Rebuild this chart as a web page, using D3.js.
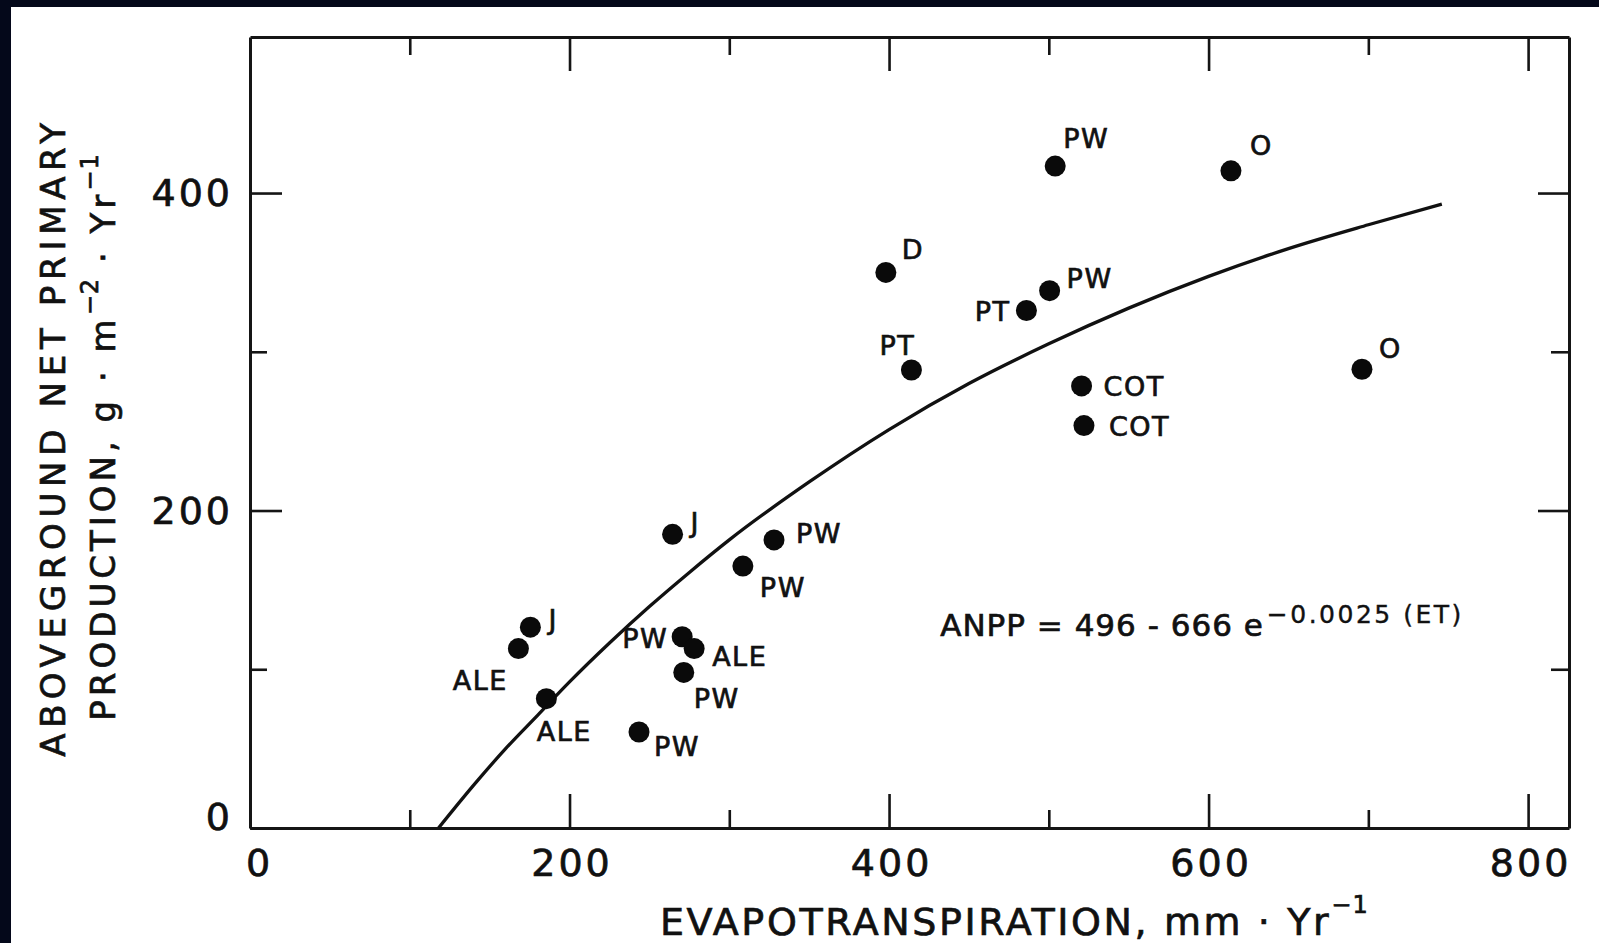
<!DOCTYPE html>
<html>
<head>
<meta charset="utf-8">
<script src="https://cdn.jsdelivr.net/npm/d3@7"></script>
<style>
  html, body { margin: 0; padding: 0; background: #04081a; }
  svg { display: block; }
  text { font-family: "DejaVu Sans", "Liberation Sans", sans-serif; fill: #111; stroke: #111; stroke-width: 0.7px; }
</style>
</head>
<body>
<svg id="chart" width="1599" height="943"></svg>
<script>
// ---------------- data ----------------
const siteLabels = ["PW","O","D","PW","PT","PT","COT","COT","O","J","PW","PW","J","ALE","PW","ALE","PW","ALE","PW"];
const etValues   = [504, 614, 398, 500.5, 486, 414, 520.5, 522, 696, 264.5, 328, 308.5, 175.5, 168, 270.5, 278, 271.5, 185.5, 243.5];
const anppValues = [417, 414, 350, 338.5, 326, 288.5, 278.5, 253.5, 289, 185, 181.5, 165, 126.5, 113, 120.5, 113, 98, 81.5, 60.5];

// fitted curve
const curveET   = [118, 140, 160, 180, 200, 225, 250, 275, 300, 350, 400, 450, 500, 550, 600, 650, 700, 746];
const curveANPP = [0, 27, 50, 71, 92, 116.5, 139.5, 161, 181.5, 218, 251, 280, 305, 327.5, 347.5, 365, 380, 393];

const xTickLabels = ["0", "200", "400", "600", "800"];
const xTickValues = [0, 200, 400, 600, 800];
const xMinorTicks = [100, 300, 500, 700];
const yTickLabels = ["0", "200", "400"];
const yTickValues = [0, 200, 400];
const yMinorTicks = [100, 300];

// label placement (layout only): [dx, dy, anchor]
const labelPlacement = [
  [8, -18, "start"], [19, -16, "start"], [16, -13, "start"], [17, -3, "start"],
  [-16, 10, "end"], [-14, -15, "middle"], [22, 10, "start"], [25, 10, "start"],
  [17, -11, "start"], [18, -2, "start"], [22, 3, "start"], [17, 31, "start"],
  [18, 2, "start"], [-38, 41, "middle"], [-14, 11, "end"], [18, 17, "start"],
  [10, 36, "start"], [18, 42, "middle"], [15, 24, "start"]
];

// ---------------- layout ----------------
const svg = d3.select("#chart");
svg.append("rect").attr("x", 11).attr("y", 7).attr("width", 1599 - 11).attr("height", 943 - 7).attr("fill", "#ffffff");

const x = d3.scaleLinear().domain([0, 825.6]).range([250, 1569]);
const y = d3.scaleLinear().domain([0, 498.3]).range([828, 37]);

const axisColor = "#151515";
function styleAxis(g, hideDomain) {
  g.selectAll("path.domain").attr("stroke", axisColor).attr("stroke-width", 3).attr("display", hideDomain ? "none" : null);
  g.selectAll(".tick line").attr("stroke", axisColor).attr("stroke-width", 2.6);
}

// bottom axis
const gB = svg.append("g").attr("transform", `translate(0,${y(0)})`)
  .call(d3.axisBottom(x).tickValues(xTickValues).tickSizeInner(-34).tickSizeOuter(0).tickPadding(21)
    .tickFormat((d, i) => xTickLabels[i]));
styleAxis(gB, false);
gB.selectAll(".tick text").attr("font-size", 38).attr("letter-spacing", 3)
  .attr("font-family", "DejaVu Sans").attr("fill", "#111").attr("stroke", "#111").attr("stroke-width", 1.2)
  .attr("dx", d => d === 0 ? 9 : 2);
const gBm = svg.append("g").attr("transform", `translate(0,${y(0)})`)
  .call(d3.axisBottom(x).tickValues(xMinorTicks).tickSizeInner(-18).tickSizeOuter(0).tickFormat(""));
styleAxis(gBm, true);

// top axis
const gT = svg.append("g").attr("transform", `translate(0,${y.range()[1]})`)
  .call(d3.axisTop(x).tickValues(xTickValues.slice(1)).tickSizeInner(-34).tickSizeOuter(0).tickFormat(""));
styleAxis(gT, false);
const gTm = svg.append("g").attr("transform", `translate(0,${y.range()[1]})`)
  .call(d3.axisTop(x).tickValues(xMinorTicks).tickSizeInner(-18).tickSizeOuter(0).tickFormat(""));
styleAxis(gTm, true);

// left axis
const gL = svg.append("g").attr("transform", `translate(${x(0)},0)`)
  .call(d3.axisLeft(y).tickValues(yTickValues).tickSizeInner(-32).tickSizeOuter(0).tickPadding(17)
    .tickFormat((d, i) => yTickLabels[i]));
styleAxis(gL, false);
gL.selectAll(".tick text").attr("font-size", 38).attr("letter-spacing", 3)
  .attr("font-family", "DejaVu Sans").attr("fill", "#111").attr("stroke", "#111").attr("stroke-width", 1.2)
  .attr("dy", d => d === 0 ? "0.05em" : "0.34em");
const gLm = svg.append("g").attr("transform", `translate(${x(0)},0)`)
  .call(d3.axisLeft(y).tickValues(yMinorTicks).tickSizeInner(-17).tickSizeOuter(0).tickFormat(""));
styleAxis(gLm, true);

// right axis
const gR = svg.append("g").attr("transform", `translate(${x.range()[1]},0)`)
  .call(d3.axisRight(y).tickValues(yTickValues.slice(1)).tickSizeInner(-31).tickSizeOuter(0).tickFormat(""));
styleAxis(gR, false);
const gRm = svg.append("g").attr("transform", `translate(${x.range()[1]},0)`)
  .call(d3.axisRight(y).tickValues(yMinorTicks).tickSizeInner(-18).tickSizeOuter(0).tickFormat(""));
styleAxis(gRm, true);

// fitted curve
const curveData = curveET.map((e, i) => ({ et: e, anpp: curveANPP[i] }));
svg.append("path").datum(curveData)
  .attr("fill", "none").attr("stroke", "#111").attr("stroke-width", 3.3)
  .attr("d", d3.line().x(d => x(d.et)).y(d => y(d.anpp)).curve(d3.curveMonotoneX));

// points
const pts = etValues.map((e, i) => ({ et: e, anpp: anppValues[i], label: siteLabels[i], place: labelPlacement[i] }));
svg.append("g").selectAll("circle").data(pts).join("circle")
  .attr("cx", d => x(d.et)).attr("cy", d => y(d.anpp)).attr("r", 10.5).attr("fill", "#0a0a0a");

svg.append("g").selectAll("text").data(pts).join("text")
  .attr("x", d => x(d.et) + d.place[0]).attr("y", d => y(d.anpp) + d.place[1])
  .attr("text-anchor", d => d.place[2])
  .attr("font-size", 27).attr("letter-spacing", 1.5)
  .text(d => d.label);

// equation
const eq = svg.append("text").attr("x", x(432)).attr("y", y(121)).attr("font-size", 31).attr("letter-spacing", 1);
eq.append("tspan").text("ANPP = 496 - 666 e");
eq.append("tspan").attr("dy", -13).attr("dx", 3).attr("font-size", 25).attr("letter-spacing", 2.5)
  .attr("stroke-width", 0.4).text("\u22120.0025 (ET)");

// x axis title
const xt = svg.append("text").attr("x", 660).attr("y", 935).attr("font-size", 38).attr("letter-spacing", 2.6)
  .attr("stroke-width", 1.1);
xt.append("tspan").text("EVAPOTRANSPIRATION,  mm \u00B7 Yr");
xt.append("tspan").attr("dy", -22).attr("font-size", 24).attr("letter-spacing", 1).text("\u22121");

// y axis title (two lines)
const yMid = 437;
svg.append("text").attr("transform", `translate(65,${yMid}) rotate(-90)`)
  .attr("text-anchor", "middle").attr("font-size", 34).attr("letter-spacing", 5.7).attr("stroke-width", 1.1)
  .text("ABOVEGROUND NET PRIMARY");
const yt2 = svg.append("text").attr("transform", `translate(115,${yMid}) rotate(-90)`)
  .attr("text-anchor", "middle").attr("font-size", 34).attr("letter-spacing", 4).attr("stroke-width", 1.1);
yt2.append("tspan").text("PRODUCTION,  g \u00B7 m");
yt2.append("tspan").attr("dy", -17).attr("font-size", 24).attr("letter-spacing", 1).text("\u22122");
yt2.append("tspan").attr("dy", 17).text(" \u00B7 Yr");
yt2.append("tspan").attr("dy", -17).attr("font-size", 24).attr("letter-spacing", 1).text("\u22121");
</script>
</body>
</html>
